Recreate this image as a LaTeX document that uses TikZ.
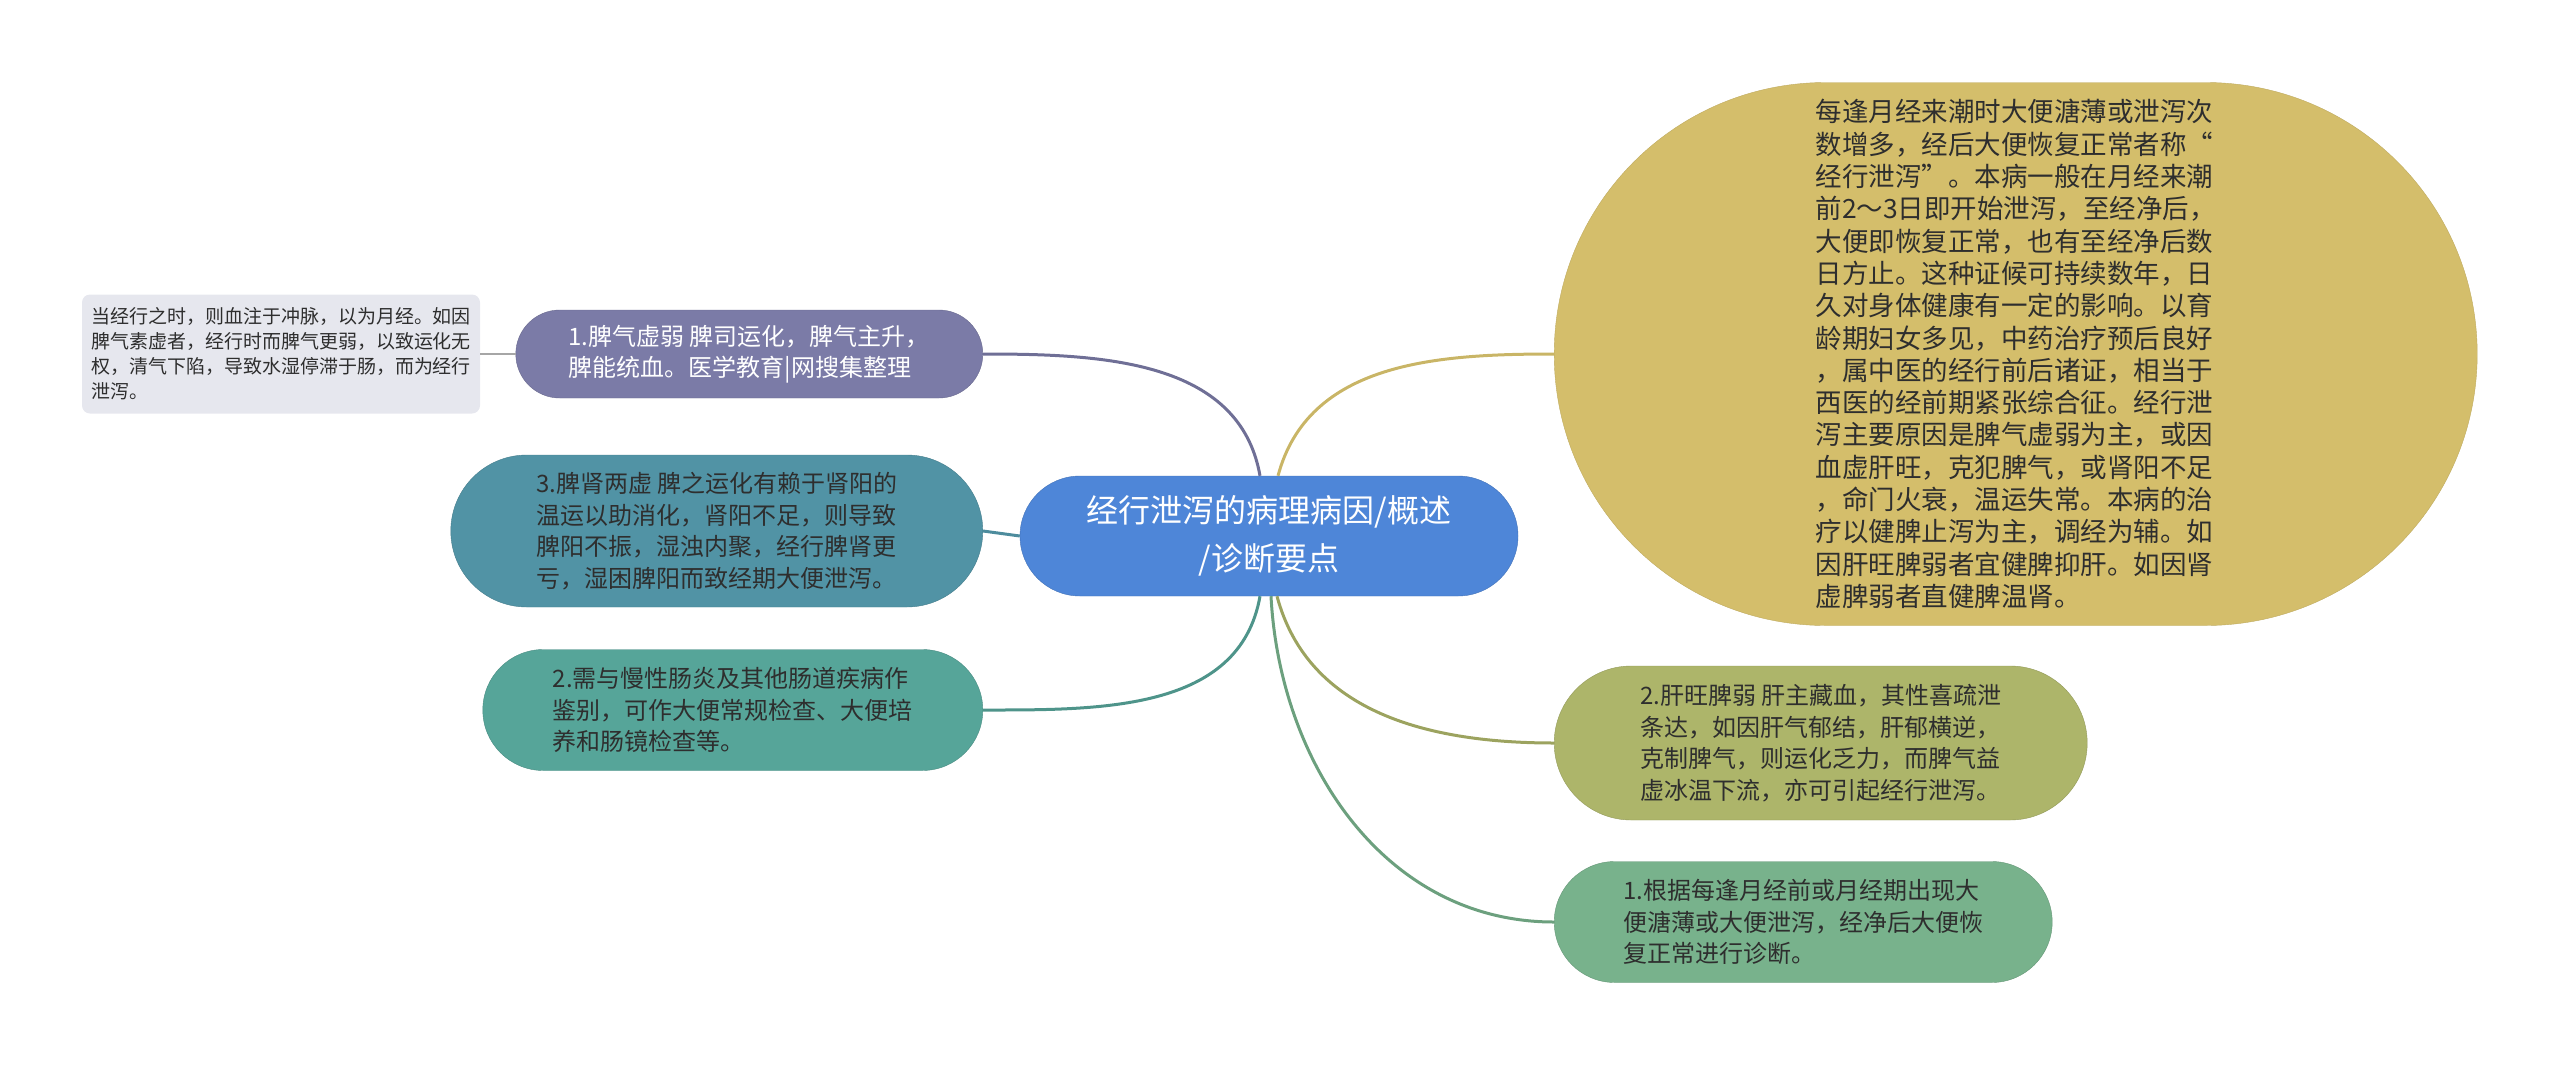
\documentclass[tikz,border=0pt]{standalone}
\usepackage{fontspec}
\newfontfamily\cjk{Noto Sans CJK SC}
\usetikzlibrary{
    shapes,
}
\newcommand{\mapfont}[2]{\cjk\fontsize{#1}{#2}\selectfont}
\newcommand{\linkwidth}{3pt}
\definecolor{rootblue}{HTML}{4E86D8}
\definecolor{spleenpurple}{HTML}{7B7BA7}
\definecolor{notegray}{HTML}{E6E7EE}
\definecolor{kidneyteal}{HTML}{5193A5}
\definecolor{diffgreen}{HTML}{56A599}
\definecolor{summarygold}{HTML}{D4BE6B}
\definecolor{liverolive}{HTML}{ADB56A}
\definecolor{diaggreen}{HTML}{78B28C}
\definecolor{darktext}{HTML}{2E2E2E}
\tikzstyle{maplink} = [line width=\linkwidth]
\tikzstyle{rootnode} = [
  draw=rootblue!85!black,
  shape=rounded rectangle,
  fill=rootblue,
  text=white,
  align=center,
  inner sep=0pt,
  font=\mapfont{32pt}{48pt},
  minimum width=498pt,
  minimum height=120pt,
]
\tikzstyle{topicnode} = [
  shape=rounded rectangle,
  text=darktext,
  align=left,
  inner sep=0pt,
  font=\mapfont{24pt}{31.5pt},
]
\tikzstyle{notenode} = [
  draw=none,
  shape=rectangle,
  rounded corners=8pt,
  fill=notegray,
  text=darktext,
  align=left,
  inner sep=0pt,
  font=\mapfont{19pt}{25pt},
  minimum width=398pt,
  minimum height=119pt,
]

\begin{document}
\begin{tikzpicture}[x=1pt, y=-1pt]
    \useasboundingbox (0,0) rectangle (2560,1066);
    % centre
    \node[rootnode] (root) at (1269,536) {经行泄泻的病理病因/概述\\/诊断要点};
    % left side
    \node[topicnode, fill=spleenpurple, draw=spleenpurple!85!black, text=white,
      minimum width=467pt, minimum height=88pt, anchor=east] (spleen) at (983,354)
      {1.脾气虚弱 脾司运化，脾气主升，\\脾能统血。医学教育|网搜集整理};
    \node[notenode] (spleennote) at (281,354)
      {当经行之时，则血注于冲脉，以为月经。如因\\脾气素虚者，经行时而脾气更弱，以致运化无\\权，清气下陷，导致水湿停滞于肠，而为经行\\泄泻。};
    \node[topicnode, fill=kidneyteal, draw=kidneyteal!85!black,
      minimum width=532pt, minimum height=152pt, anchor=east] (kidney) at (983,531)
      {3.脾肾两虚 脾之运化有赖于肾阳的\\温运以助消化，肾阳不足，则导致\\脾阳不振，湿浊内聚，经行脾肾更\\亏，湿困脾阳而致经期大便泄泻。};
    \node[topicnode, fill=diffgreen, draw=diffgreen!85!black,
      minimum width=500pt, minimum height=121pt, anchor=east] (differ) at (983,710)
      {2.需与慢性肠炎及其他肠道疾病作\\鉴别，可作大便常规检查、大便培\\养和肠镜检查等。};
    % right side
    \node[topicnode, fill=summarygold, draw=summarygold!90!black,
      font=\mapfont{26.5pt}{32.3pt},
      minimum width=923pt, minimum height=543pt, anchor=west] (summary) at (1554,354)
      {每逢月经来潮时大便溏薄或泄泻次\\数增多，经后大便恢复正常者称“\\经行泄泻”。本病一般在月经来潮\\前2～3日即开始泄泻，至经净后，\\大便即恢复正常，也有至经净后数\\日方止。这种证候可持续数年，日\\久对身体健康有一定的影响。以育\\龄期妇女多见，中药治疗预后良好\\，属中医的经行前后诸证，相当于\\西医的经前期紧张综合征。经行泄\\泻主要原因是脾气虚弱为主，或因\\血虚肝旺，克犯脾气，或肾阳不足\\，命门火衰，温运失常。本病的治\\疗以健脾止泻为主，调经为辅。如\\因肝旺脾弱者宜健脾抑肝。如因肾\\虚脾弱者直健脾温肾。};
    \node[topicnode, fill=liverolive, draw=liverolive!85!black,
      minimum width=533pt, minimum height=154pt, anchor=west] (liver) at (1554,743)
      {2.肝旺脾弱 肝主藏血，其性喜疏泄\\条达，如因肝气郁结，肝郁横逆，\\克制脾气，则运化乏力，而脾气益\\虚冰温下流，亦可引起经行泄泻。};
    \node[topicnode, fill=diaggreen, draw=diaggreen!85!black,
      minimum width=498pt, minimum height=121pt, anchor=west] (diagnose) at (1554,922)
      {1.根据每逢月经前或月经期出现大\\便溏薄或大便泄泻，经净后大便恢\\复正常进行诊断。};
    % links
    \draw[maplink, spleenpurple!90!black] ([xshift=-9pt]root.north) to[out=100, in=0] (spleen.east);
    \draw[line width=2pt, gray!70] (spleennote.east) -- (spleen.west);
    \draw[maplink, kidneyteal!95!black] (kidney.east) -- (root.west);
    \draw[maplink, diffgreen!90!black] ([xshift=-9pt]root.south) to[out=-100, in=0] (differ.east);
    \draw[maplink, summarygold!95!black] ([xshift=9pt]root.north) to[out=75, in=180] (summary.west);
    \draw[maplink, liverolive!90!black] ([xshift=8pt]root.south) to[out=-75, in=180] (liver.west);
    \draw[maplink, diaggreen!90!black] ([xshift=2pt]root.south) to[out=-87, in=180] (diagnose.west);
\end{tikzpicture}
\end{document}
